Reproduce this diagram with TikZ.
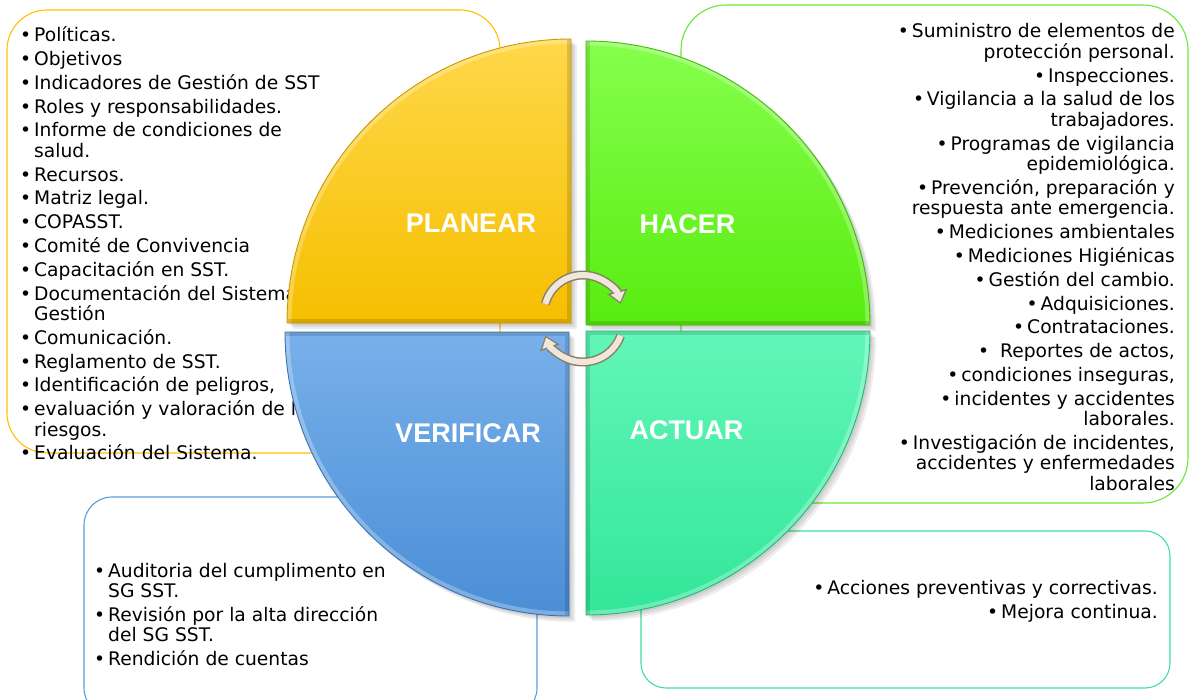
\documentclass[tikz,border=0pt]{standalone}
\usepackage{fontspec}
\setmainfont{DejaVu Sans}
\newfontfamily\labfont{Liberation Sans}
\usetikzlibrary{arrows.meta}

\definecolor{ybox}{HTML}{FFC000}
\definecolor{gbox}{HTML}{6BE63A}
\definecolor{bbox}{HTML}{5B9BD5}
\definecolor{tbox}{HTML}{3EDF9A}
\definecolor{yTop}{HTML}{FFD84A}
\definecolor{yBot}{HTML}{F5BF00}
\definecolor{yEdge}{HTML}{C99A00}
\definecolor{gTop}{HTML}{86FF4D}
\definecolor{gBot}{HTML}{58EC10}
\definecolor{gEdge}{HTML}{44B80C}
\definecolor{bTop}{HTML}{78B0EA}
\definecolor{bBot}{HTML}{4A8ED6}
\definecolor{bEdge}{HTML}{3A72B0}
\definecolor{tTop}{HTML}{62F6B8}
\definecolor{tBot}{HTML}{32E699}
\definecolor{tEdge}{HTML}{22B878}
\definecolor{arrdark}{HTML}{8A7F6B}
\definecolor{arrlight}{HTML}{EFE8DA}

\newcommand\bul{\makebox[14bp][l]{•}}
\newcommand\hang{\hspace*{14bp}}
\newcommand\itemgap{\vskip3.25bp}
\newcommand\txtsetup{\fontsize{18.7bp}{20.5bp}\selectfont\baselineskip=20.5bp\lineskiplimit=-100bp\lineskip=0pt}
\newcommand\Lline[1]{\hbox{#1}}
\newcommand\Rline[1]{\hbox to 420bp{\hfil#1}}

\begin{document}
\begin{tikzpicture}[x=1bp,y=-1bp,
  bodytext/.style={inner sep=0pt, text=black},
  phase/.style={inner sep=0pt, text=white, font=\labfont\bfseries\fontsize{27bp}{30bp}\selectfont, anchor=base},
  boxline/.style={line width=1.1bp},
  arrowout/.style={line width=9bp, draw=arrdark, -{Triangle[length=13bp,width=20bp]}},
  arrowin/.style={line width=6bp, draw=arrlight, -{Triangle[length=9.5bp,width=14bp]}, shorten >=2bp}]
\useasboundingbox (0,0) rectangle (1189,700);
\clip (0,0) rectangle (1189,700);

% ---- text boxes ----
\draw[boxline, draw=ybox, rounded corners=40bp] (7,10) rectangle (500,453);
\draw[boxline, draw=gbox, rounded corners=45bp] (681,5) rectangle (1188,503);
\draw[boxline, draw=bbox, rounded corners=28bp] (84,497) rectangle (537,716);
\draw[boxline, draw=tbox, rounded corners=25bp] (641,531) rectangle (1170,688);

% ---- box texts ----
\node[bodytext, anchor=base west] (plantxt) at (20,42) {\vtop{\txtsetup
\Lline{\bul Políticas.}\itemgap
\Lline{\bul Objetivos}\itemgap
\Lline{\bul Indicadores de Gestión de SST}\itemgap
\Lline{\bul Roles y responsabilidades.}\itemgap
\Lline{\bul Informe de condiciones de}
\Lline{\hang salud.}\itemgap
\Lline{\bul Recursos.}\itemgap
\Lline{\bul Matriz legal.}\itemgap
\Lline{\bul COPASST.}\itemgap
\Lline{\bul Comité de Convivencia}\itemgap
\Lline{\bul Capacitación en SST.}\itemgap
\Lline{\bul Documentación del Sistema de}
\Lline{\hang Gestión}\itemgap
\Lline{\bul Comunicación.}\itemgap
\Lline{\bul Reglamento de SST.}\itemgap
\Lline{\bul Identificación de peligros,}\itemgap
\Lline{\bul evaluación y valoración de los}
\Lline{\hang riesgos.}\itemgap
\Lline{\bul Evaluación del Sistema.}}};

\node[bodytext, anchor=base east] (hacertxt) at (1175,38) {\vtop{\txtsetup
\Rline{\bul Suministro de elementos de}
\Rline{protección personal.}\itemgap
\Rline{\bul Inspecciones.}\itemgap
\Rline{\bul Vigilancia a la salud de los}
\Rline{trabajadores.}\itemgap
\Rline{\bul Programas de vigilancia}
\Rline{epidemiológica.}\itemgap
\Rline{\bul Prevención, preparación y}
\Rline{respuesta ante emergencia.}\itemgap
\Rline{\bul Mediciones ambientales}\itemgap
\Rline{\bul Mediciones Higiénicas}\itemgap
\Rline{\bul Gestión del cambio.}\itemgap
\Rline{\bul Adquisiciones.}\itemgap
\Rline{\bul Contrataciones.}\itemgap
\Rline{\bul\hspace{8bp}Reportes de actos,}\itemgap
\Rline{\bul condiciones inseguras,}\itemgap
\Rline{\bul incidentes y accidentes}
\Rline{laborales.}\itemgap
\Rline{\bul Investigación de incidentes,}
\Rline{accidentes y enfermedades}
\Rline{laborales}}};

\node[bodytext, anchor=base west] (veriftxt) at (94,577) {\vtop{\txtsetup
\Lline{\bul Auditoria del cumplimento en}
\Lline{\hang SG SST.}\itemgap
\Lline{\bul Revisión por la alta dirección}
\Lline{\hang del SG SST.}\itemgap
\Lline{\bul Rendición de cuentas}}};

\node[bodytext, anchor=base east] (actuartxt) at (1158,594) {\vtop{\txtsetup
\Rline{\bul Acciones preventivas y correctivas.}\vskip4bp
\Rline{\bul Mejora continua.}}};

% ---- shadows of the circle ----
\foreach \cx/\cy/\a/\b in {571/323/180/270, 586/325/270/360, 586/331/0/90, 569/332/90/180}{
  \foreach \s in {2,4,6}{
    \fill[black, opacity=0.07, xshift=\s bp, yshift=-\s bp] (\cx,\cy) -- ++(\a:284) arc[start angle=\a, end angle=\b, radius=284] -- cycle;
  }
}

% ---- quadrants ----
\foreach \cx/\cy/\a/\b/\ct/\cb/\ce in {571/323/180/270/yTop/yBot/yEdge, 586/325/270/360/gTop/gBot/gEdge, 586/331/0/90/tTop/tBot/tEdge, 569/332/90/180/bTop/bBot/bEdge}{
  \shade[top color=\ct, bottom color=\cb] (\cx,\cy) -- ++(\a:284) arc[start angle=\a, end angle=\b, radius=284] -- cycle;
  \begin{scope}
    \clip (\cx,\cy) -- ++(\a:284) arc[start angle=\a, end angle=\b, radius=284] -- cycle;
    \draw[white, opacity=0.28, line width=9bp] (\cx,\cy) ++(\a:284) arc[start angle=\a, end angle=\b, radius=284];
    \draw[black, opacity=0.13, line width=8bp] (\cx,\cy) ++(\b:284) -- (\cx,\cy) -- ++(\a:284);
  \end{scope}
  \draw[\ce, line width=0.9bp] (\cx,\cy) -- ++(\a:284) arc[start angle=\a, end angle=\b, radius=284] -- cycle;
}

% ---- phase labels ----
\node[phase] (planear) at (471,233) {PLANEAR};
\node[phase] (hacer) at (687.5,234) {HACER};
\node[phase] (verificar) at (468,442) {VERIFICAR};
\node[phase] (actuar) at (686.5,439) {ACTUAR};

% ---- cycle arrows ----
\draw[arrowout] (583,314) ++(195:39) arc[start angle=195, end angle=345, radius=39];
\draw[arrowin]  (583,314) ++(195:39) arc[start angle=195, end angle=345, radius=39];
\draw[arrowout] (583,322) ++(20:40) arc[start angle=20, end angle=160, radius=40];
\draw[arrowin]  (583,322) ++(20:40) arc[start angle=20, end angle=160, radius=40];
\end{tikzpicture}
\end{document}
